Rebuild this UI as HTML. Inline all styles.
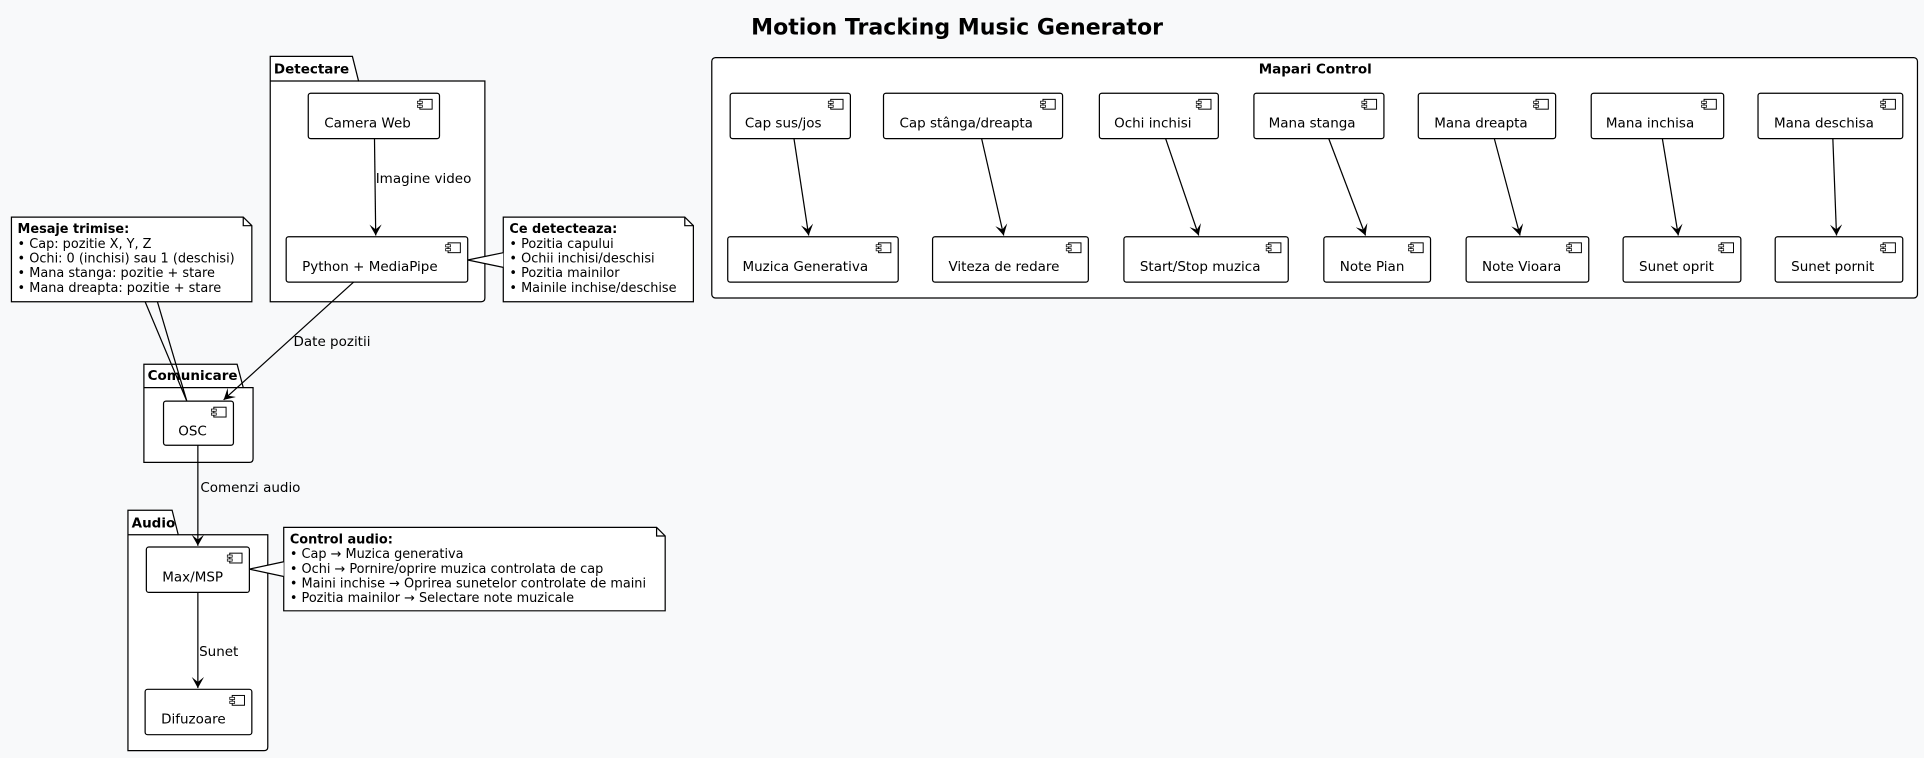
<!DOCTYPE html>
<html><head><meta charset="utf-8"><style>
html,body{margin:0;padding:0;background:#f8f9fa;}
svg{display:block;}
text{font-family:"DejaVu Sans","Liberation Sans",sans-serif;font-size:11px;fill:#000;}
.n{font-size:10.5px;}
.b{font-weight:bold;}
.c{fill:#fff;stroke:#000;stroke-width:1;}
.l{stroke:#000;stroke-width:1;fill:none;}
</style></head><body>
<svg width="1924" height="758" viewBox="0 0 1568 618" xmlns="http://www.w3.org/2000/svg">
<defs>
<marker id="a" markerWidth="10" markerHeight="10" refX="9" refY="5" orient="auto" markerUnits="userSpaceOnUse">
<path d="M0,0 L9,5 L0,10 L4,5 Z" fill="#000"/>
</marker>
<g id="ic"><rect x="0" y="0" width="10" height="8" fill="#fff" stroke="#000" stroke-width="0.8"/><rect x="-2" y="1.5" width="4" height="1.8" fill="#fff" stroke="#000" stroke-width="0.6"/><rect x="-2" y="4.7" width="4" height="1.8" fill="#fff" stroke="#000" stroke-width="0.6"/></g>
</defs>
<rect width="1568" height="618" fill="#f8f9fa"/>
<text x="780" y="28" text-anchor="middle" class="b" style="font-size:18px">Motion Tracking Music Generator</text>

<path class="c" d="M220,66 L220,46 L287,46 L292,66 L395,66 L395,243 Q395,246 392,246 L220,246 Z"/>
<line class="l" x1="220" y1="66" x2="292" y2="66"/>
<text x="223" y="60" class="b">Detectare</text>

<path class="c" d="M117,316 L117,297 L193,297 L198,316 L206,316 L206,374 Q206,377 203,377 L117,377 Z"/>
<line class="l" x1="117" y1="316" x2="198" y2="316"/>
<text x="120" y="310" class="b">Comunicare</text>

<path class="c" d="M104,436 L104,416 L140,416 L145,436 L218,436 L218,609 Q218,612 215,612 L104,612 Z"/>
<line class="l" x1="104" y1="436" x2="145" y2="436"/>
<text x="107" y="430" class="b">Audio</text>

<rect class="c" x="580" y="47" width="983" height="196" rx="3"/>
<text x="1072" y="60" text-anchor="middle" class="b">Mapari Control</text>

<g>
<rect class="c" x="251" y="76" width="107" height="37" rx="2"/><use href="#ic" x="342" y="81"/><text x="264" y="104">Camera Web</text>
<rect class="c" x="233" y="193" width="148" height="37" rx="2"/><use href="#ic" x="365" y="198"/><text x="246" y="221">Python + MediaPipe</text>
<rect class="c" x="133" y="327" width="57" height="36" rx="2"/><use href="#ic" x="174" y="332"/><text x="145" y="355">OSC</text>
<rect class="c" x="119" y="446" width="84" height="37" rx="2"/><use href="#ic" x="187" y="451"/><text x="132" y="474">Max/MSP</text>
<rect class="c" x="118" y="562" width="87" height="37" rx="2"/><use href="#ic" x="189" y="567"/><text x="131" y="590">Difuzoare</text>

<rect class="c" x="595" y="76" width="98" height="37" rx="2"/><use href="#ic" x="677" y="81"/><text x="607" y="104">Cap sus/jos</text>
<rect class="c" x="720" y="76" width="146" height="37" rx="2"/><use href="#ic" x="850" y="81"/><text x="733" y="104">Cap stânga/dreapta</text>
<rect class="c" x="896" y="76" width="97" height="37" rx="2"/><use href="#ic" x="977" y="81"/><text x="908" y="104">Ochi inchisi</text>
<rect class="c" x="1022" y="76" width="106" height="37" rx="2"/><use href="#ic" x="1112" y="81"/><text x="1034" y="104">Mana stanga</text>
<rect class="c" x="1156" y="76" width="112" height="37" rx="2"/><use href="#ic" x="1252" y="81"/><text x="1169" y="104">Mana dreapta</text>
<rect class="c" x="1297" y="76" width="108" height="37" rx="2"/><use href="#ic" x="1389" y="81"/><text x="1309" y="104">Mana inchisa</text>
<rect class="c" x="1433" y="76" width="118" height="37" rx="2"/><use href="#ic" x="1535" y="81"/><text x="1446" y="104">Mana deschisa</text>

<rect class="c" x="593" y="193" width="139" height="37" rx="2"/><use href="#ic" x="716" y="198"/><text x="605" y="221">Muzica Generativa</text>
<rect class="c" x="760" y="193" width="127" height="37" rx="2"/><use href="#ic" x="871" y="198"/><text x="773" y="221">Viteza de redare</text>
<rect class="c" x="916" y="193" width="134" height="37" rx="2"/><use href="#ic" x="1034" y="198"/><text x="929" y="221">Start/Stop muzica</text>
<rect class="c" x="1079" y="193" width="87" height="37" rx="2"/><use href="#ic" x="1150" y="198"/><text x="1092" y="221">Note Pian</text>
<rect class="c" x="1195" y="193" width="100" height="37" rx="2"/><use href="#ic" x="1279" y="198"/><text x="1208" y="221">Note Vioara</text>
<rect class="c" x="1323" y="193" width="96" height="37" rx="2"/><use href="#ic" x="1403" y="198"/><text x="1336" y="221">Sunet oprit</text>
<rect class="c" x="1447" y="193" width="104" height="37" rx="2"/><use href="#ic" x="1535" y="198"/><text x="1460" y="221">Sunet pornit</text>
</g>

<g>
<line class="l" x1="305" y1="113" x2="306" y2="192" marker-end="url(#a)"/><text x="306" y="149">Imagine video</text>
<line class="l" x1="288" y1="230" x2="182" y2="326" marker-end="url(#a)"/><text x="239" y="282">Date pozitii</text>
<line class="l" x1="161" y1="363" x2="161" y2="445" marker-end="url(#a)"/><text x="163" y="401">Comenzi audio</text>
<line class="l" x1="161" y1="483" x2="161" y2="561" marker-end="url(#a)"/><text x="162" y="535">Sunet</text>
<line class="l" x1="647" y1="113" x2="659" y2="192" marker-end="url(#a)"/>
<line class="l" x1="800" y1="113" x2="818" y2="192" marker-end="url(#a)"/>
<line class="l" x1="950" y1="113" x2="977" y2="192" marker-end="url(#a)"/>
<line class="l" x1="1083" y1="113" x2="1113" y2="192" marker-end="url(#a)"/>
<line class="l" x1="1218" y1="113" x2="1239" y2="192" marker-end="url(#a)"/>
<line class="l" x1="1355" y1="113" x2="1368" y2="192" marker-end="url(#a)"/>
<line class="l" x1="1494" y1="113" x2="1497" y2="192" marker-end="url(#a)"/>
</g>

<path class="c" d="M9,177 L198,177 L205,184 L205,246 L9,246 Z"/><path class="l" d="M198,177 L198,184 L205,184"/>
<text x="14" y="190" class="b n">Mesaje trimise:</text>
<text x="14" y="202" class="n">• Cap: pozitie X, Y, Z</text>
<text x="14" y="214" class="n">• Ochi: 0 (inchisi) sau 1 (deschisi)</text>
<text x="14" y="226" class="n">• Mana stanga: pozitie + stare</text>
<text x="14" y="238" class="n">• Mana dreapta: pozitie + stare</text>
<path class="l" d="M118,246 L152,327 L128,246"/>

<path class="c" d="M410,177 L558,177 L565,184 L565,246 L410,246 Z"/><path class="l" d="M558,177 L558,184 L565,184"/>
<text x="415" y="190" class="b n">Ce detecteaza:</text>
<text x="415" y="202" class="n">• Pozitia capului</text>
<text x="415" y="214" class="n">• Ochii inchisi/deschisi</text>
<text x="415" y="226" class="n">• Pozitia mainilor</text>
<text x="415" y="238" class="n">• Mainile inchise/deschise</text>
<path d="M410,206 L381,212 L410,218" fill="#fff" stroke="#000" stroke-width="1"/>

<path class="c" d="M231,430 L535,430 L542,437 L542,498 L231,498 Z"/><path class="l" d="M535,430 L535,437 L542,437"/>
<text x="236" y="443" class="b n">Control audio:</text>
<text x="236" y="455" class="n">• Cap → Muzica generativa</text>
<text x="236" y="467" class="n">• Ochi → Pornire/oprire muzica controlata de cap</text>
<text x="236" y="479" class="n">• Maini inchise → Oprirea sunetelor controlate de maini</text>
<text x="236" y="491" class="n">• Pozitia mainilor → Selectare note muzicale</text>
<path d="M231,458 L203,464 L231,470" fill="#fff" stroke="#000" stroke-width="1"/>
</svg>
</body></html>
